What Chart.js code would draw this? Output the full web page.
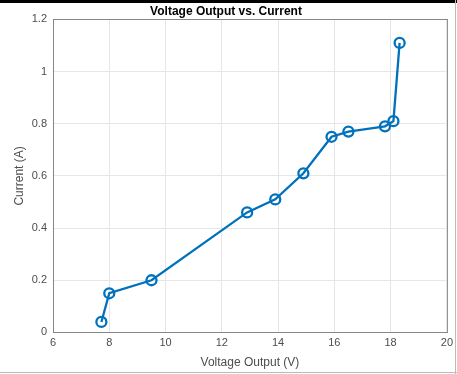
<!DOCTYPE html>
<html>
<head>
<meta charset="utf-8">
<script src="https://cdn.jsdelivr.net/npm/chart.js@4"></script>
<style>
html,body{margin:0;padding:0;background:#fff;overflow:hidden;}
#wrap{position:relative;width:457px;height:374px;}
#topbar{position:absolute;left:0;top:0;width:457px;height:3px;background:#000;}
#rb{position:absolute;right:1px;top:0;width:1px;height:374px;background:#bbb;}
#bb{position:absolute;left:0;bottom:1px;width:457px;height:1px;background:#bbb;}
canvas{position:absolute;left:0;top:0;}
</style>
</head>
<body>
<div id="wrap">
<canvas id="c" width="457" height="374"></canvas>
<div id="topbar"></div><div id="rb"></div><div id="bb"></div>
</div>
<script>
const voltage = [7.72, 8.0, 9.5, 12.9, 13.9, 14.9, 15.9, 16.5, 17.8, 18.1, 18.32];
const current = [0.04, 0.15, 0.20, 0.46, 0.51, 0.61, 0.75, 0.77, 0.79, 0.81, 1.11];
const xTicks = [6, 8, 10, 12, 14, 16, 18, 20];
const yTicks = [0, 0.2, 0.4, 0.6, 0.8, 1, 1.2];

const FONT = "'Liberation Sans', Arial, sans-serif";
const pts = voltage.map((v, i) => ({x: v, y: current[i]}));

const boxPlugin = {
  id: 'box',
  afterDatasetsDraw(chart) {
    const {ctx, chartArea: a} = chart;
    ctx.save();
    ctx.strokeStyle = '#262626';
    ctx.globalAlpha = 0.5;
    ctx.lineWidth = 1;
    ctx.strokeRect(Math.round(a.left) + 0.5, Math.round(a.top) + 0.5, Math.round(a.right - a.left), Math.round(a.bottom - a.top));
    ctx.restore();
  }
};

new Chart(document.getElementById('c'), {
  type: 'line',
  data: {
    datasets: [{
      data: pts,
      borderColor: '#0072BD',
      borderWidth: 2.3,
      pointRadius: 5,
      pointHoverRadius: 5,
      pointBorderWidth: 2.3,
      pointBorderColor: '#0072BD',
      pointBackgroundColor: 'rgba(0,0,0,0)',
      tension: 0
    }]
  },
  options: {
    responsive: false,
    animation: false,
    layout: {padding: {left: 0, right: 5, top: 1, bottom: 4}},
    plugins: {
      legend: {display: false},
      tooltip: {enabled: false},
      title: {
        display: true,
        text: 'Voltage Output vs. Current',
        color: '#000',
        font: {family: FONT, size: 12, weight: 'bold'},
        padding: {top: 3, bottom: 1}
      }
    },
    scales: {
      x: {
        type: 'linear',
        min: 6, max: 20,
        afterBuildTicks: s => { s.ticks = xTicks.map(v => ({value: v})); },
        grid: {color: '#e6e6e6', drawTicks: false},
        border: {display: false},
        ticks: {color: '#4d4d4d', font: {family: FONT, size: 11}, padding: 4},
        title: {display: true, text: 'Voltage Output (V)', color: '#4d4d4d', font: {family: FONT, size: 12}, padding: {top: 2, bottom: 0}}
      },
      y: {
        type: 'linear',
        min: 0, max: 1.2,
        afterBuildTicks: s => { s.ticks = yTicks.map(v => ({value: v})); },
        afterFit: s => { s.width = 53; },
        grid: {color: '#e6e6e6', drawTicks: false},
        border: {display: false},
        ticks: {color: '#4d4d4d', font: {family: FONT, size: 11}, padding: 6, callback: v => String(v)},
        title: {display: true, text: 'Current (A)', color: '#4d4d4d', font: {family: FONT, size: 12}, padding: {top: 12, bottom: 0}}
      }
    }
  },
  plugins: [boxPlugin]
});
</script>
</body>
</html>
